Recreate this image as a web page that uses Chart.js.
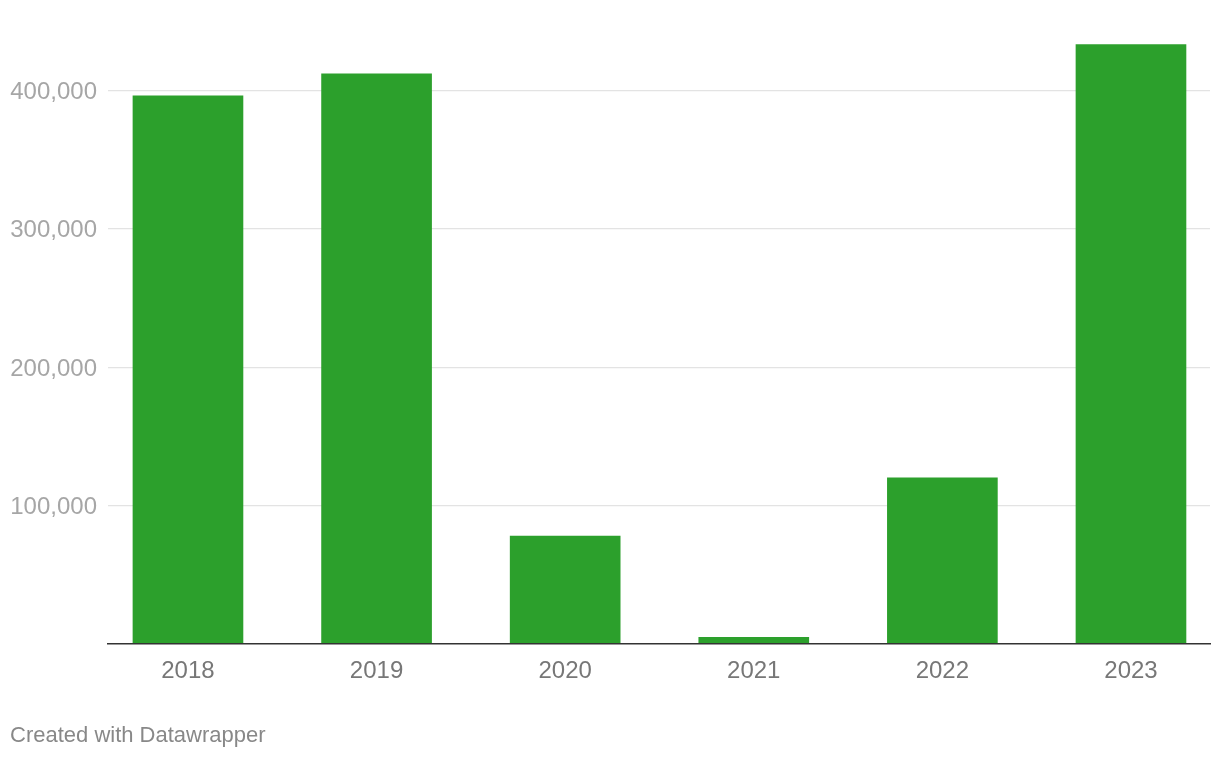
<!DOCTYPE html>
<html>
<head>
<meta charset="utf-8">
<script src="https://cdn.jsdelivr.net/npm/chart.js@4.4.0/dist/chart.umd.min.js"></script>
<style>
  html, body { margin: 0; padding: 0; background: #fff; }
  #wrap { position: relative; width: 1220px; height: 758px; }
  #footer {
    position: absolute; left: 10px; top: 723px;
    font-family: "Liberation Sans", Arial, sans-serif;
    font-size: 22px; line-height: 24px; color: #888;
  }
</style>
</head>
<body>
<div id="wrap">
  <canvas id="grafica" width="1220" height="758"></canvas>
  <div id="footer">Created with Datawrapper</div>
</div>
<script>
// datos
var years = ['2018', '2019', '2020', '2021', '2022', '2023'];
var values = [396000, 412000, 78000, 4800, 120000, 433000];
var yTicks = [100000, 200000, 300000, 400000];

var points = [];
for (var i = 0; i < years.length; i++) {
  points.push({ x: i, y: values[i] });
}

var ctx = document.getElementById('grafica').getContext('2d');
var chart = new Chart(ctx, {
  type: 'bar',
  data: {
    datasets: [{
      data: points,
      backgroundColor: '#2ca02c',
      borderWidth: 0,
      barThickness: 110
    }]
  },
  options: {
    responsive: false,
    animation: false,
    layout: { padding: { left: 10, right: 10, top: 35, bottom: 0 } },
    plugins: { legend: { display: false }, tooltip: { enabled: false } },
    scales: {
      x: {
        type: 'linear',
        offset: false,
        bounds: 'data',
        min: -0.424,
        max: 5.419,
        afterFit: function (scale) { scale.height = 114; },
        afterBuildTicks: function (scale) {
          scale.ticks = years.map(function (y, i) { return { value: i }; });
        },
        grid: { display: false, drawTicks: false, offset: false },
        border: { display: true, color: '#333333', width: 1.5, z: 1 },
        ticks: {
          autoSkip: false,
          maxRotation: 0,
          padding: 13,
          color: '#777777',
          font: { family: '"Liberation Sans", Arial, sans-serif', size: 24 },
          callback: function (v) { return years[v]; }
        }
      },
      y: {
        type: 'linear',
        min: 0,
        max: 440000,
        afterFit: function (scale) { scale.width = 98; },
        afterBuildTicks: function (scale) {
          scale.ticks = yTicks.map(function (v) { return { value: v }; });
        },
        border: { display: false },
        grid: { drawTicks: false, lineWidth: 1.2, color: '#e3e3e3' },
        ticks: {
          padding: 11,
          labelOffset: 2,
          color: '#a6a6a6',
          font: { family: '"Liberation Sans", Arial, sans-serif', size: 24 },
          callback: function (v) { return v.toLocaleString('en-US'); }
        }
      }
    }
  }
});
</script>
</body>
</html>
